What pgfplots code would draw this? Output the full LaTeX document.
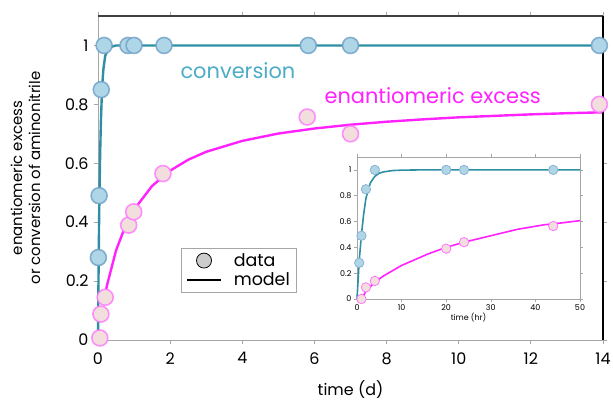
\documentclass[border=0pt]{standalone}
\usepackage{pgfplots}
\pgfplotsset{compat=1.18}
\usepackage{fontspec}
\setmainfont{Poppins}

\definecolor{convline}{HTML}{2E8FA3}
\definecolor{convfill}{HTML}{AED6E6}
\definecolor{convedge}{HTML}{6E9FC8}
\definecolor{convtext}{HTML}{4BACC6}
\definecolor{eeline}{HTML}{FF22FF}
\definecolor{eefill}{HTML}{F2DEDC}
\definecolor{eeedge}{HTML}{FF77FF}

\begin{document}
\begin{tikzpicture}
\path[use as bounding box] (-98bp,-65bp) rectangle (515bp,340bp);

% main plot (days)
\begin{axis}[
  at={(0,0)}, anchor=south west,
  width=505bp, height=324bp, scale only axis,
  xmin=0, xmax=14, ymin=0, ymax=1.1,
  xtick={0,2,...,14}, ytick={0,0.2,0.4,0.6,0.8,1},
  axis line style={color=gray!70, line width=1pt},
  tick style={color=gray!70, line width=0.8pt},
  tick align=outside, major tick length=4bp,
  tick label style={font=\fontsize{16}{18}\selectfont, /pgf/number format/assume math mode=true},
  xticklabel style={yshift=-5bp},
  yticklabel style={xshift=-2bp},
  xlabel={time (d)}, ylabel={enantiomeric excess\\or conversion of aminonitrile},
  xlabel style={font=\fontsize{16}{18}\selectfont, yshift=-9bp},
  ylabel style={font=\fontsize{15}{18}\selectfont, align=center, yshift=18bp},
  clip=false,
  legend style={at={(0.164,0.284)}, anchor=north west, draw=gray!70, line width=0.8pt,
    font=\fontsize{17.5}{18}\selectfont, inner xsep=5bp, inner ysep=3bp, row sep=1bp,
    /tikz/every odd column/.append style={column sep=10bp}},
  legend cell align=left,
  legend image code/.code={\draw[mark repeat=2,mark phase=2,#1] plot coordinates {(0cm,0cm) (0.6cm,0cm) (1.2cm,0cm)};},
]
\addlegendimage{only marks, mark=*, mark size=7.5bp, mark options={fill=gray!40, draw=black, line width=0.8pt}}
\addlegendentry{data}
\addlegendimage{black, line width=1.6pt}
\addlegendentry{model}

% model curves
\addplot[convline, line width=2.4pt, forget plot] coordinates {
  (0,0) (0.01,0.155) (0.02,0.285) (0.03,0.40) (0.04,0.49) (0.06,0.635)
  (0.08,0.74) (0.1,0.81) (0.125,0.878) (0.15,0.92) (0.2,0.965) (0.3,0.993)
  (0.5,1) (14,1)};
\addplot[eeline, line width=2.4pt, forget plot] coordinates {
  (0.167,0.135) (0.25,0.186) (0.5,0.304) (0.75,0.384) (1,0.443) (1.5,0.523)
  (2,0.575) (2.5,0.612) (3,0.639) (4,0.676) (5,0.701) (6,0.718) (7,0.731)
  (8,0.741) (9,0.749) (10,0.756) (11,0.761) (12,0.766) (13,0.770) (14,0.773)};

% data
\addplot[only marks, mark=*, mark size=8bp, forget plot,
  mark options={fill=convfill, draw=convedge, draw opacity=0.8, line width=1.6pt}] coordinates {
  (0.01,0.28) (0.03,0.49) (0.09,0.85) (0.17,1) (0.83,1) (1,1) (1.83,1)
  (5.83,1) (7,1) (13.9,1)};
\addplot[only marks, mark=*, mark size=8bp, forget plot,
  mark options={fill=eefill, draw=eeedge, draw opacity=0.8, line width=1.6pt}] coordinates {
  (0.05,0.007) (0.08,0.088) (0.2,0.145) (0.85,0.39) (0.99,0.435) (1.8,0.565)
  (5.8,0.757) (7,0.70) (13.9,0.80)};

\node[text=convtext, font=\fontsize{21}{22}\selectfont] at (axis cs:3.88,0.915) {conversion};
\node[text=eeline, font=\fontsize{21}{22}\selectfont] at (axis cs:9.28,0.83) {enantiomeric excess};

\draw[color=black!75, line width=1.2pt] (rel axis cs:0,1) -- (rel axis cs:1,1);
\draw[color=black, line width=1.2pt] (rel axis cs:1,0) -- (rel axis cs:1,1);
\end{axis}

% inset (hours)
\begin{axis}[
  at={(259bp,41bp)}, anchor=south west,
  width=223bp, height=142bp, scale only axis,
  xmin=0, xmax=50, ymin=0, ymax=1.1,
  xtick={0,10,...,50}, ytick={0,0.2,0.4,0.6,0.8,1},
  axis background/.style={fill=white},
  axis line style={color=gray!70, line width=0.8pt},
  tick style={color=gray!70, line width=0.6pt},
  tick align=outside, major tick length=3bp,
  tick label style={font=\fontsize{8}{9}\selectfont, /pgf/number format/assume math mode=true},
  xticklabel style={yshift=1pt},
  yticklabel style={xshift=1pt},
  xlabel={time (hr)},
  xlabel style={font=\fontsize{8}{9}\selectfont, yshift=4pt},
  clip=false,
]
\addplot[convline, line width=1.6pt] coordinates {
  (0,0) (0.5,0.3) (1,0.5) (1.5,0.66) (2,0.78) (3,0.9) (4,0.95) (5,0.975)
  (6,0.985) (8,0.995) (10,0.998) (14,1) (50,1)};
\addplot[eeline, line width=1.6pt] coordinates {
  (1,0) (2,0.06) (4,0.13) (6,0.18) (8,0.22) (10,0.26) (12,0.29) (16,0.35)
  (20,0.40) (24,0.44) (30,0.49) (36,0.54) (42,0.575) (46,0.59) (50,0.607)};
\addplot[only marks, mark=*, mark size=4.7bp,
  mark options={fill=convfill, draw=convedge!80, line width=0.8pt}] coordinates {
  (0.5,0.28) (1,0.49) (2,0.85) (4,1) (20,1) (24,1) (44,1)};
\addplot[only marks, mark=*, mark size=4.7bp,
  mark options={fill=eefill, draw=eeedge, line width=0.8pt}] coordinates {
  (1,0.0) (2,0.09) (4,0.14) (20,0.39) (24,0.44) (44,0.565)};
\end{axis}
\end{tikzpicture}
\end{document}
